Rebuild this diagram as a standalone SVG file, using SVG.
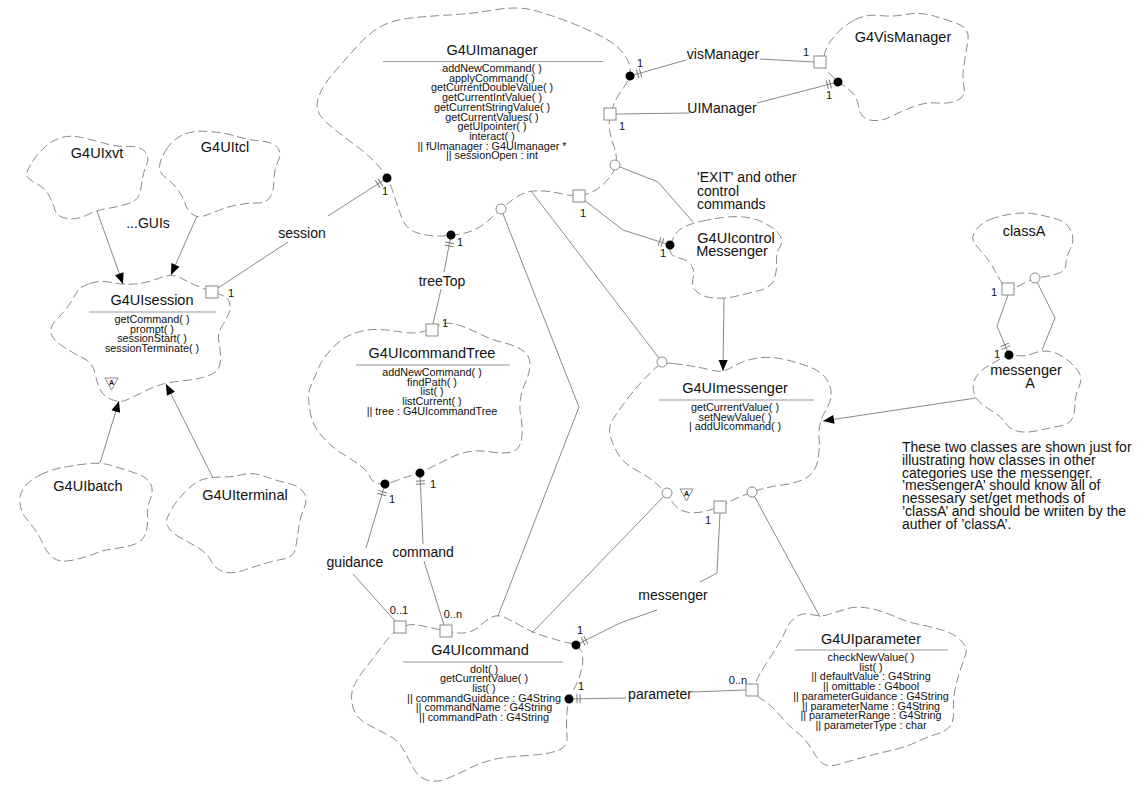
<svg xmlns="http://www.w3.org/2000/svg" width="1144" height="785" viewBox="0 0 1144 785">
<style>
.cloud{fill:none;stroke:#8a8a8a;stroke-width:1;stroke-dasharray:9 4}
.conn{fill:none;stroke:#8a8a8a;stroke-width:1}
text{font-family:"Liberation Sans",Arial,Helvetica,sans-serif;fill:#111}
.title{font-size:14.5px;text-anchor:middle}
.m{font-size:10.8px;text-anchor:middle}
.lbl{font-size:14px;text-anchor:middle}
.lbls{font-size:14px;text-anchor:start}
.num{font-size:11px;text-anchor:middle}
.note{font-size:14px;text-anchor:start}
.sep{stroke:#9a9a9a;stroke-width:1.2}
.sq,.ci,.tri{fill:#fff;stroke:#8a8a8a;stroke-width:1}
.ta{font-size:7px;font-weight:bold;text-anchor:middle}
</style>
<defs>
<marker id="has" markerUnits="userSpaceOnUse" viewBox="-6 -6 20 12" markerWidth="20" markerHeight="12" refX="0" refY="0" orient="auto" overflow="visible">
<circle r="4.5" fill="#000"/>
<path d="M8,-4.5V4.5M11,-4.5V4.5" stroke="#777" stroke-width="1" fill="none"/>
</marker>
<marker id="arr" markerUnits="userSpaceOnUse" viewBox="-12 -6 14 12" markerWidth="14" markerHeight="12" refX="0" refY="0" orient="auto" overflow="visible">
<path d="M0,0 L-11,-4.5 L-11,4.5 Z" fill="#000"/>
</marker>
</defs>
<rect width="1144" height="785" fill="#fff"/>

<g id="G4UImanager">
<path class="cloud" d="M 380,27 Q 392,20 411,18 Q 430,16 450,15 Q 470,14 493.5,10 Q 517,6 532.5,10 Q 548,14 569,22 Q 590,30 606,39 Q 622,48 628,61 Q 634,74 624,87 Q 614,100 610.5,114 Q 607,128 613.5,145 Q 620,162 612,174 Q 604,186 592,192 Q 580,198 562.5,194 Q 545,190 533.5,191 Q 522,192 511,201 Q 500,210 489,220 Q 478,230 465,233 Q 452,236 438.5,236 Q 425,236 415,232 Q 405,228 401,216 Q 397,204 392.5,190.5 Q 388,177 379,166.5 Q 370,156 355,145 Q 340,134 327,123 Q 314,112 318,99 Q 322,86 333.5,73 Q 345,60 356.5,47 Q 368,34 380,27 Z"/>
<text class="title" x="492" y="55">G4UImanager</text>
<line class="sep" x1="383" y1="61.5" x2="603" y2="61.5"/>
<text class="m" x="492" y="72">addNewCommand( )<tspan x="492" dy="9.7">applyCommand( )</tspan><tspan x="492" dy="9.7">getCurrentDoubleValue( )</tspan><tspan x="492" dy="9.7">getCurrentIntValue( )</tspan><tspan x="492" dy="9.7">getCurrentStringValue( )</tspan><tspan x="492" dy="9.7">getCurrentValues( )</tspan><tspan x="492" dy="9.7">getUIpointer( )</tspan><tspan x="492" dy="9.7">interact( )</tspan><tspan x="492" dy="9.7">|| fUImanager : G4UImanager *</tspan><tspan x="492" dy="9.7">|| sessionOpen : int</tspan></text>
</g>

<g id="G4VisManager">
<path class="cloud" d="M 854.5,20 Q 866,14 879.5,15.5 Q 893,17 905.5,14.5 Q 918,12 930,15 Q 942,18 956,23 Q 970,28 968,40 Q 966,52 964,65 Q 962,78 964,87 Q 966,96 958,100 Q 950,104 937.5,103 Q 925,102 912.5,107 Q 900,112 890,117 Q 880,122 870,120 Q 860,118 858.5,106.5 Q 857,95 847.5,88.5 Q 838,82 830,74 Q 822,66 824,56 Q 826,46 834.5,36 Q 843,26 854.5,20 Z"/>
<text class="title" x="903" y="42">G4VisManager</text>
</g>

<g id="G4UIcontrolMessenger">
<path class="cloud" d="M 702.5,221 Q 712,219 722.5,217.5 Q 733,216 743.5,217 Q 754,218 763.5,222.5 Q 773,227 778.5,233.5 Q 784,240 780,247 Q 776,254 776.5,262 Q 777,270 774.5,278.5 Q 772,287 761,290 Q 750,293 737,296 Q 724,299 713.5,298 Q 703,297 697,292 Q 691,287 693,279 Q 695,271 691.5,265.5 Q 688,260 679,258 Q 670,256 670,250.5 Q 670,245 673.5,237.5 Q 677,230 685,226.5 Q 693,223 702.5,221 Z"/>
<text class="title" x="736" y="243">G4UIcontrol</text>
<text class="title" x="732" y="256">Messenger</text>
</g>

<g id="G4UIxvt">
<path class="cloud" d="M 32.5,161.5 Q 38,153 45.5,146.5 Q 53,140 61.5,137.5 Q 70,135 81.5,137.5 Q 93,140 105,143.5 Q 117,147 128.5,146.5 Q 140,146 145,151.5 Q 150,157 146.5,165 Q 143,173 142,181.5 Q 141,190 139,195.5 Q 137,201 127,204 Q 117,207 107,208.5 Q 97,210 87,215 Q 77,220 67,218.5 Q 57,217 55,210 Q 53,203 49,195.5 Q 45,188 35.5,183 Q 26,178 26.5,174 Q 27,170 32.5,161.5 Z"/>
<text class="title" x="97" y="158">G4UIxvt</text>
</g>

<g id="G4UItcl">
<path class="cloud" d="M 166,150 Q 172,140 182.5,135 Q 193,130 209.5,131.5 Q 226,133 237,136.5 Q 248,140 260.5,141 Q 273,142 277.5,147.5 Q 282,153 278,161.5 Q 274,170 274,180 Q 274,190 270.5,196.5 Q 267,203 257,203 Q 247,203 237,205 Q 227,207 218.5,210.5 Q 210,214 203.5,216 Q 197,218 192,214 Q 187,210 185,203.5 Q 183,197 178,190 Q 173,183 166,178 Q 159,173 159.5,166.5 Q 160,160 166,150 Z"/>
<text class="title" x="225" y="152">G4UItcl</text>
</g>

<g id="G4UIsession">
<path class="cloud" d="M 90,283.5 Q 100,280 111.5,282.5 Q 123,285 135,284 Q 147,283 159.5,278 Q 172,273 181,278 Q 190,283 201,287.5 Q 212,292 220,294.5 Q 228,297 229.5,302.5 Q 231,308 228.5,314 Q 226,320 221.5,327 Q 217,334 219,343 Q 221,352 220.5,360 Q 220,368 216,371.5 Q 212,375 202.5,377.5 Q 193,380 181.5,381 Q 170,382 161.5,384.5 Q 153,387 143,392 Q 133,397 126.5,400 Q 120,403 111.5,399.5 Q 103,396 100,389.5 Q 97,383 95,373 Q 93,363 83,358 Q 73,353 63,346.5 Q 53,340 51,333.5 Q 49,327 57.5,318.5 Q 66,310 71,302 Q 76,294 78,290.5 Q 80,287 90,283.5 Z"/>
<text class="title" x="152" y="305">G4UIsession</text>
<line class="sep" x1="89" y1="312" x2="216" y2="312"/>
<text class="m" x="152" y="323">getCommand( )<tspan x="152" dy="9.7">prompt( )</tspan><tspan x="152" dy="9.7">sessionStart( )</tspan><tspan x="152" dy="9.7">sessionTerminate( )</tspan></text>
<path class="tri" d="M105,378 L118,378 L111.5,390 Z"/>
<text class="ta" x="111.5" y="385">A</text>
</g>

<g id="G4UIbatch">
<path class="cloud" d="M 40,475 Q 50,470 60,468 Q 70,466 85,464 Q 100,462 111.5,465.5 Q 123,469 135,473 Q 147,477 150.5,483.5 Q 154,490 150.5,498.5 Q 147,507 147.5,517 Q 148,527 145.5,534 Q 143,541 135,544 Q 127,547 115,548.5 Q 103,550 95,553.5 Q 87,557 73.5,560 Q 60,563 53.5,558 Q 47,553 43.5,545 Q 40,537 35,530 Q 30,523 25.5,517.5 Q 21,512 20,503 Q 19,494 24.5,487 Q 30,480 40,475 Z"/>
<text class="title" x="88" y="491">G4UIbatch</text>
</g>

<g id="G4UIterminal">
<path class="cloud" d="M 172,508.5 Q 177,500 186.5,490.5 Q 196,481 204.5,479 Q 213,477 223,477 Q 233,477 243,474.5 Q 253,472 263.5,476 Q 274,480 287,483 Q 300,486 304,493 Q 308,500 304,508.5 Q 300,517 298.5,528.5 Q 297,540 295.5,548.5 Q 294,557 283.5,559 Q 273,561 263,564 Q 253,567 243,570.5 Q 233,574 224.5,572 Q 216,570 211.5,561.5 Q 207,553 198.5,548 Q 190,543 181,538 Q 172,533 169,528.5 Q 166,524 166.5,520.5 Q 167,517 172,508.5 Z"/>
<text class="title" x="245" y="500">G4UIterminal</text>
</g>

<g id="G4UIcommandTree">
<path class="cloud" d="M 355,333 Q 367,329 378.5,329.5 Q 390,330 401,332 Q 412,334 421,332 Q 430,330 438.5,325.5 Q 447,321 458.5,325 Q 470,329 481,334.5 Q 492,340 504.5,343 Q 517,346 523.5,351 Q 530,356 530,364 Q 530,372 526,381 Q 522,390 520.5,399 Q 519,408 521,418 Q 523,428 521.5,439 Q 520,450 511.5,452 Q 503,454 491.5,452 Q 480,450 470,451.5 Q 460,453 450,458 Q 440,463 430,468 Q 420,473 411.5,475.5 Q 403,478 394,481.5 Q 385,485 378.5,483.5 Q 372,482 370,477 Q 368,472 362,467 Q 356,462 346,456 Q 336,450 329,443.5 Q 322,437 317,429.5 Q 312,422 310.5,413.5 Q 309,405 308.5,398.5 Q 308,392 312,383 Q 316,374 319.5,366 Q 323,358 333,347.5 Q 343,337 355,333 Z"/>
<text class="title" x="432" y="358">G4UIcommandTree</text>
<line class="sep" x1="356" y1="365" x2="510" y2="365"/>
<text class="m" x="432" y="376">addNewCommand( )<tspan x="432" dy="9.7">findPath( )</tspan><tspan x="432" dy="9.7">list( )</tspan><tspan x="432" dy="9.7">listCurrent( )</tspan><tspan x="432" dy="9.7">|| tree : G4UIcommandTree</tspan></text>
</g>

<g id="G4UImessenger">
<path class="cloud" d="M 673.5,363.5 Q 685,365 694,366.5 Q 703,368 713,370.5 Q 723,373 732.5,367 Q 742,361 755,358.5 Q 768,356 782.5,359 Q 797,362 811,367.5 Q 825,373 829.5,385 Q 834,397 826,410 Q 818,423 819,436.5 Q 820,450 817.5,461.5 Q 815,473 806,478 Q 797,483 782.5,485 Q 768,487 760,489.5 Q 752,492 742,496 Q 732,500 726,503.5 Q 720,507 708,510.5 Q 696,514 686.5,512 Q 677,510 672,501.5 Q 667,493 658,485 Q 649,477 636,470 Q 623,463 617.5,453 Q 612,443 610,435 Q 608,427 613.5,418.5 Q 619,410 626.5,400 Q 634,390 642,381.5 Q 650,373 656,367.5 Q 662,362 673.5,363.5 Z"/>
<text class="title" x="735" y="393">G4UImessenger</text>
<line class="sep" x1="659" y1="400" x2="814" y2="400"/>
<text class="m" x="735" y="411">getCurrentValue( )<tspan x="735" dy="9.7">setNewValue( )</tspan><tspan x="735" dy="9.7">| addUIcommand( )</tspan></text>
<path class="tri" d="M680,489 L693,489 L686.5,501 Z"/>
<text class="ta" x="686.5" y="496">A</text>
</g>

<g id="G4UIcommand">
<path class="cloud" d="M 406,625.5 Q 412,624 417.5,625 Q 423,626 434.5,628.5 Q 446,631 454,632.5 Q 462,634 469,632 Q 476,630 481,625 Q 486,620 492,617 Q 498,614 506,618 Q 514,622 524,627.5 Q 534,633 547,637 Q 560,641 569,643 Q 578,645 581,650.5 Q 584,656 582,667 Q 580,678 574,689 Q 568,700 567,712.5 Q 566,725 567,736 Q 568,747 558,750.5 Q 548,754 534,755 Q 520,756 509,757 Q 498,758 488,761 Q 478,764 468,769 Q 458,774 447,778.5 Q 436,783 427,780 Q 418,777 413,767.5 Q 408,758 403,749 Q 398,740 388,735 Q 378,730 367,724 Q 356,718 353,707.5 Q 350,697 353,688.5 Q 356,680 364,670 Q 372,660 380,649 Q 388,638 394,632.5 Q 400,627 406,625.5 Z"/>
<text class="title" x="480" y="655">G4UIcommand</text>
<line class="sep" x1="403" y1="662" x2="563" y2="662"/>
<text class="m" x="484" y="672.5">doIt( )<tspan x="484" dy="9.7">getCurrentValue( )</tspan><tspan x="484" dy="9.7">list( )</tspan><tspan x="484" dy="9.7">|| commandGuidance : G4String</tspan><tspan x="484" dy="9.7">|| commandName : G4String</tspan><tspan x="484" dy="9.7">|| commandPath : G4String</tspan></text>
</g>

<g id="G4UIparameter">
<path class="cloud" d="M 756,681.5 Q 760,673 766.5,663 Q 773,653 778,645 Q 783,637 786,629.5 Q 789,622 796,617 Q 803,612 811.5,614.5 Q 820,617 828.5,614.5 Q 837,612 846,609 Q 855,606 867.5,608 Q 880,610 893.5,616 Q 907,622 919.5,624.5 Q 932,627 943.5,630.5 Q 955,634 961.5,641 Q 968,648 965.5,655 Q 963,662 960,671 Q 957,680 955,690 Q 953,700 953.5,710 Q 954,720 950.5,725.5 Q 947,731 937,734 Q 927,737 916.5,742 Q 906,747 893,750 Q 880,753 866.5,756.5 Q 853,760 840,764 Q 827,768 821.5,762.5 Q 816,757 813,751.5 Q 810,746 806,741 Q 802,736 796,731.5 Q 790,727 784.5,720.5 Q 779,714 773.5,708.5 Q 768,703 763,700 Q 758,697 755,693.5 Q 752,690 756,681.5 Z"/>
<text class="title" x="871" y="644">G4UIparameter</text>
<line class="sep" x1="795" y1="650" x2="948" y2="650"/>
<text class="m" x="871" y="661">checkNewValue( )<tspan x="871" dy="9.7">list( )</tspan><tspan x="871" dy="9.7">|| defaultValue : G4String</tspan><tspan x="871" dy="9.7">|| omittable : G4bool</tspan><tspan x="871" dy="9.7">|| parameterGuidance : G4String</tspan><tspan x="871" dy="9.7">|| parameterName : G4String</tspan><tspan x="871" dy="9.7">|| parameterRange : G4String</tspan><tspan x="871" dy="9.7">|| parameterType : char</tspan></text>
</g>

<g id="classA">
<path class="cloud" d="M 990,219.5 Q 999,216 1011.5,214 Q 1024,212 1035,214 Q 1046,216 1056.5,219 Q 1067,222 1071,231 Q 1075,240 1070.5,248.5 Q 1066,257 1066,264 Q 1066,271 1058,273.5 Q 1050,276 1042.5,277 Q 1035,278 1027.5,281.5 Q 1020,285 1014,288.5 Q 1008,292 1003,284.5 Q 998,277 994.5,270 Q 991,263 985.5,256.5 Q 980,250 975,244 Q 970,238 975.5,230.5 Q 981,223 990,219.5 Z"/>
<text class="title" x="1024" y="236">classA</text>
</g>

<g id="messengerA">
<path class="cloud" d="M 1016.5,355.5 Q 1024,357 1033,353.5 Q 1042,350 1050,351.5 Q 1058,353 1065.5,358.5 Q 1073,364 1078,371 Q 1083,378 1079,387 Q 1075,396 1075,403 Q 1075,410 1073,417 Q 1071,424 1060,426 Q 1049,428 1038.5,430.5 Q 1028,433 1019,431.5 Q 1010,430 1006,423.5 Q 1002,417 993.5,412 Q 985,407 980,402.5 Q 975,398 973.5,390.5 Q 972,383 976.5,376.5 Q 981,370 988,366 Q 995,362 1002,358 Q 1009,354 1016.5,355.5 Z"/>
<text class="title" x="1026" y="375">messenger</text>
<text class="title" x="1030" y="388">A</text>
</g>

<g id="note">
<text class="note" x="902" y="452">These two classes are shown just for<tspan x="902" dy="12.75">illustrating how classes in other</tspan><tspan x="902" dy="12.75">categories use the messenger.</tspan><tspan x="902" dy="12.75">’messengerA’ should know all of</tspan><tspan x="902" dy="12.75">nessesary set/get methods of</tspan><tspan x="902" dy="12.75">’classA’ and should be wriiten by the</tspan><tspan x="902" dy="12.75">auther of ’classA’.</tspan></text>
</g>

<g id="connectors">
<path class="conn" d="M630,76 L686,60" marker-start="url(#has)"/>
<path class="conn" d="M760,59 L814,62"/>
<text class="lbl" x="723" y="59">visManager</text>
<text class="num" x="640" y="67">1</text>
<text class="num" x="806" y="56">1</text>
<path class="conn" d="M838,82 L757,103" marker-start="url(#has)"/>
<path class="conn" d="M690,113 L616,114"/>
<text class="lbl" x="722" y="113">UIManager</text>
<text class="num" x="829" y="99">1</text>
<text class="num" x="622" y="130">1</text>
<path class="conn" d="M615,165 L658,182 L693,222"/>
<text class="lbls" x="697" y="182">'EXIT' and other<tspan x="697" dy="13.5">control</tspan><tspan x="697" dy="13.5">commands</tspan></text>
<path class="conn" d="M670,245 L623,230 L579,196" marker-start="url(#has)"/>
<text class="num" x="663" y="257">1</text>
<text class="num" x="583" y="217">1</text>
<path class="conn" d="M387,178 L328,216" marker-start="url(#has)"/>
<path class="conn" d="M288,242 L218,288"/>
<text class="lbl" x="302" y="238">session</text>
<text class="num" x="385" y="195">1</text>
<text class="num" x="231" y="297">1</text>
<path class="conn" d="M451,235 L444,272" marker-start="url(#has)"/>
<path class="conn" d="M441,289 L433,324"/>
<text class="lbl" x="442" y="286">treeTop</text>
<text class="num" x="460" y="246">1</text>
<text class="num" x="445" y="327">1</text>
<path class="conn" d="M385,484 L366,548" marker-start="url(#has)"/>
<path class="conn" d="M353,574 L396,622"/>
<text class="lbl" x="355" y="567">guidance</text>
<text class="num" x="392" y="503">1</text>
<text class="num" x="399" y="614">0..1</text>
<path class="conn" d="M420,473 L423,544" marker-start="url(#has)"/>
<path class="conn" d="M424,561 L444,625"/>
<text class="lbl" x="423" y="557">command</text>
<text class="num" x="433" y="488">1</text>
<text class="num" x="453" y="618">0..n</text>
<path class="conn" d="M576,645 L620,623 L657,610" marker-start="url(#has)"/>
<path class="conn" d="M700,582 L717,573 L720,513"/>
<text class="lbl" x="673" y="600">messenger</text>
<text class="num" x="580" y="634">1</text>
<text class="num" x="708" y="524">1</text>
<path class="conn" d="M569,699 L626,698" marker-start="url(#has)"/>
<path class="conn" d="M692,692 L746,690"/>
<text class="lbl" x="660" y="699">parameter</text>
<text class="num" x="581" y="690">1</text>
<text class="num" x="738" y="684">0..n</text>
<path class="conn" d="M531,191 L662,362"/>
<path class="conn" d="M501,209 L579,407 L498,616"/>
<path class="conn" d="M667,493 L532,633"/>
<path class="conn" d="M752,492 L820,617"/>
<path class="conn" d="M1009,355 L1004,343 L997,326 L1008,295" marker-start="url(#has)"/>
<path class="conn" d="M1035,278 L1055,318 L1042,350"/>
<text class="num" x="994" y="296">1</text>
<text class="num" x="997" y="358">1</text>
<path class="conn" d="M724,298 L723,371" marker-end="url(#arr)"/>
<path class="conn" d="M976,398 L823,421" marker-end="url(#arr)"/>
<path class="conn" d="M97,211 L123,284" marker-end="url(#arr)"/>
<path class="conn" d="M197,216 L171,275" marker-end="url(#arr)"/>
<path class="conn" d="M100,463 L119,401" marker-end="url(#arr)"/>
<path class="conn" d="M213,478 L166,384" marker-end="url(#arr)"/>
<text class="lbl" x="148" y="228">...GUIs</text>
<rect class="sq" x="604" y="108" width="12" height="12"/>
<rect class="sq" x="573" y="190" width="12" height="12"/>
<rect class="sq" x="814" y="56" width="12" height="12"/>
<rect class="sq" x="206" y="286" width="12" height="12"/>
<rect class="sq" x="426" y="324" width="12" height="12"/>
<rect class="sq" x="394" y="621" width="12" height="12"/>
<rect class="sq" x="440" y="625" width="12" height="12"/>
<rect class="sq" x="714" y="501" width="12" height="12"/>
<rect class="sq" x="746" y="684" width="12" height="12"/>
<rect class="sq" x="1002" y="283" width="12" height="12"/>
<circle class="ci" cx="501" cy="209" r="5"/>
<circle class="ci" cx="615" cy="165" r="5"/>
<circle class="ci" cx="662" cy="362" r="5"/>
<circle class="ci" cx="667" cy="493" r="5"/>
<circle class="ci" cx="752" cy="492" r="5"/>
<circle class="ci" cx="1035" cy="278" r="5"/>
</g>
</svg>
